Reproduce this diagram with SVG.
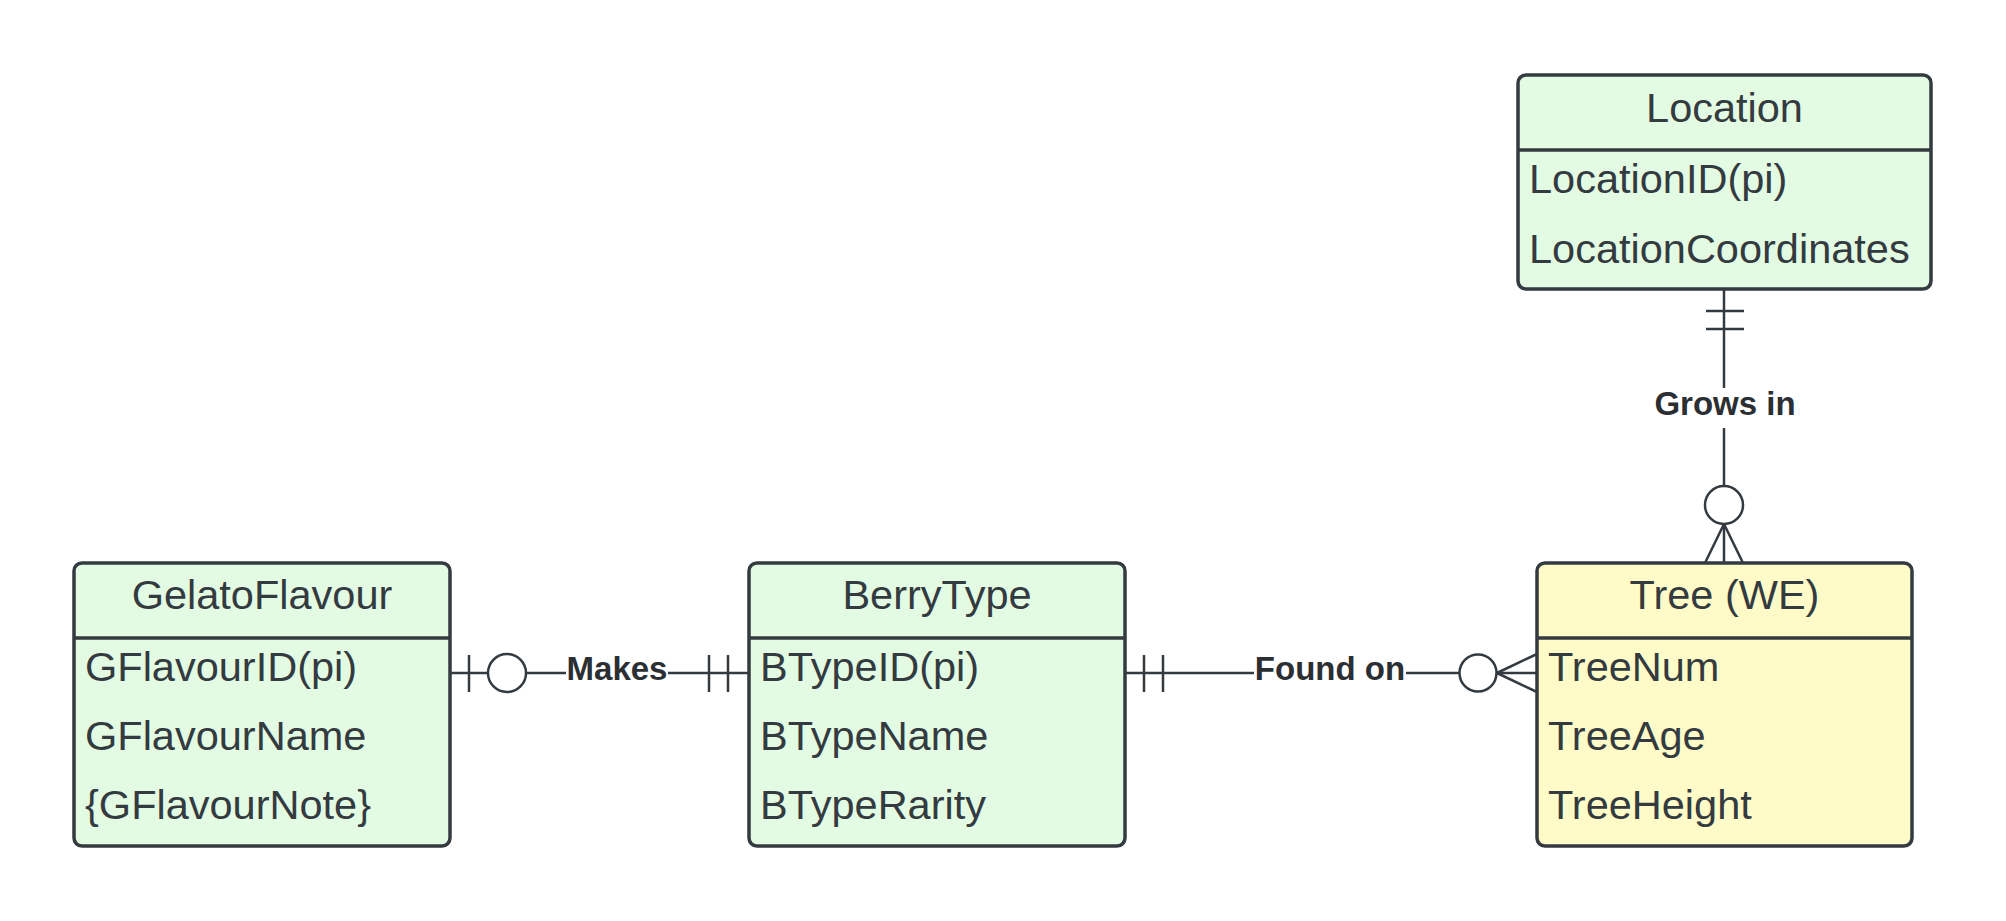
<svg xmlns="http://www.w3.org/2000/svg" width="2006" height="921" viewBox="0 0 2006 921">
<style>
.box{stroke:#333a40;stroke-width:3.5;}
.green{fill:#e3fae3;}
.yellow{fill:#fffbc8;}
.div{stroke:#333a40;stroke-width:3.5;fill:none;}
.t{font-family:"Liberation Sans",Arial,sans-serif;font-size:41.5px;fill:#333b40;}
.title{text-anchor:middle;}
.ln{stroke:#333a40;stroke-width:2.5;fill:none;}
.lbl{font-family:"Liberation Sans",Arial,sans-serif;font-size:33px;font-weight:bold;fill:#2b2f33;text-anchor:middle;}
</style>
<rect width="2006" height="921" fill="#ffffff"/>
<g id="connectors">
  <g id="makes">
    <line class="ln" x1="450" y1="673" x2="488" y2="673"/>
    <line class="ln" x1="469" y1="655" x2="469" y2="692"/>
    <circle class="ln" cx="507" cy="673" r="19" fill="#ffffff"/>
    <line class="ln" x1="526" y1="673" x2="566" y2="673"/>
    <line class="ln" x1="668" y1="673" x2="749" y2="673"/>
    <line class="ln" x1="709" y1="655" x2="709" y2="692"/>
    <line class="ln" x1="728" y1="655" x2="728" y2="692"/>
    <text class="lbl" x="617" y="680">Makes</text>
  </g>
  <g id="foundon">
    <line class="ln" x1="1125" y1="673" x2="1254" y2="673"/>
    <line class="ln" x1="1144" y1="655" x2="1144" y2="692"/>
    <line class="ln" x1="1163" y1="655" x2="1163" y2="692"/>
    <line class="ln" x1="1406" y1="673" x2="1459" y2="673"/>
    <circle class="ln" cx="1478" cy="673" r="18.5" fill="#ffffff"/>
    <line class="ln" x1="1497" y1="673" x2="1537" y2="673"/>
    <line class="ln" x1="1497" y1="673" x2="1537" y2="654"/>
    <line class="ln" x1="1497" y1="673" x2="1537" y2="692"/>
    <text class="lbl" x="1330" y="680">Found on</text>
  </g>
  <g id="growsin">
    <line class="ln" x1="1724" y1="289" x2="1724" y2="388"/>
    <line class="ln" x1="1706" y1="311" x2="1744" y2="311"/>
    <line class="ln" x1="1706" y1="329" x2="1744" y2="329"/>
    <line class="ln" x1="1724" y1="428" x2="1724" y2="486"/>
    <circle class="ln" cx="1724" cy="505" r="19" fill="#ffffff"/>
    <line class="ln" x1="1724" y1="524" x2="1724" y2="563"/>
    <line class="ln" x1="1724" y1="524" x2="1705" y2="563"/>
    <line class="ln" x1="1724" y1="524" x2="1743" y2="563"/>
    <text class="lbl" x="1725" y="415">Grows in</text>
  </g>
</g>
<g id="GelatoFlavour">
  <rect class="box green" x="74" y="563" width="376" height="283" rx="8"/>
  <line class="div" x1="74" y1="638" x2="450" y2="638"/>
  <text class="t title" x="262" y="609">GelatoFlavour</text>
  <text class="t" x="85" y="681">GFlavourID(pi)</text>
  <text class="t" x="85" y="750">GFlavourName</text>
  <text class="t" x="85" y="819">{GFlavourNote}</text>
</g>
<g id="BerryType">
  <rect class="box green" x="749" y="563" width="376" height="283" rx="8"/>
  <line class="div" x1="749" y1="638" x2="1125" y2="638"/>
  <text class="t title" x="937" y="609">BerryType</text>
  <text class="t" x="760" y="681">BTypeID(pi)</text>
  <text class="t" x="760" y="750">BTypeName</text>
  <text class="t" x="760" y="819">BTypeRarity</text>
</g>
<g id="Tree">
  <rect class="box yellow" x="1537" y="563" width="375" height="283" rx="8"/>
  <line class="div" x1="1537" y1="638" x2="1912" y2="638"/>
  <text class="t title" x="1724.5" y="609">Tree (WE)</text>
  <text class="t" x="1548" y="681">TreeNum</text>
  <text class="t" x="1548" y="750">TreeAge</text>
  <text class="t" x="1548" y="819">TreeHeight</text>
</g>
<g id="Location">
  <rect class="box green" x="1518" y="75" width="413" height="214" rx="8"/>
  <line class="div" x1="1518" y1="150" x2="1931" y2="150"/>
  <text class="t title" x="1724.5" y="122">Location</text>
  <text class="t" x="1529" y="193">LocationID(pi)</text>
  <text class="t" x="1529" y="263">LocationCoordinates</text>
</g>
</svg>
